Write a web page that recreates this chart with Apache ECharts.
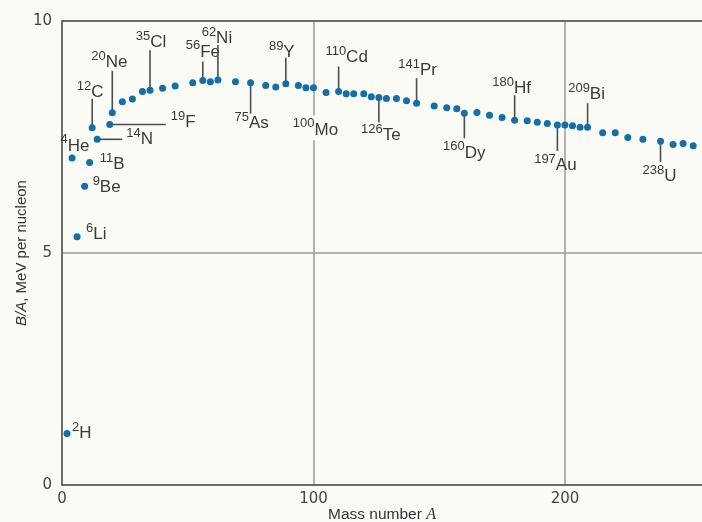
<!DOCTYPE html>
<html>
<head>
<meta charset="utf-8">
<script src="https://cdn.jsdelivr.net/npm/echarts@6/dist/echarts.min.js"></script>
<style>
  html, body { margin: 0; padding: 0; background: #fbfbf5; }
  #chart { width: 702px; height: 522px; }
</style>
</head>
<body>
<div id="chart"></div>
<script>
// Binding energy per nucleon (MeV) against mass number A
const massNumber = [2, 4, 6, 9, 11, 12, 14, 19, 20, 24, 28, 32, 35, 40, 45, 52, 56, 59, 62, 69,
  75, 81, 85, 89, 94, 97, 100, 105, 110, 113, 116, 120, 123, 126, 129, 133, 137, 141, 148, 153,
  157, 160, 165, 170, 175, 180, 185, 189, 193, 197, 200, 203, 206, 209, 215, 220, 225, 231, 238,
  243, 247, 251];
const bindingPerNucleon = [1.11, 7.05, 5.35, 6.44, 6.95, 7.70, 7.45, 7.77, 8.02, 8.26, 8.32, 8.48,
  8.51, 8.55, 8.60, 8.67, 8.72, 8.69, 8.73, 8.69, 8.67, 8.61, 8.58, 8.65, 8.61, 8.56, 8.56, 8.46,
  8.48, 8.43, 8.43, 8.43, 8.37, 8.35, 8.33, 8.33, 8.28, 8.23, 8.17, 8.13, 8.11, 8.01, 8.03, 7.97,
  7.92, 7.86, 7.85, 7.82, 7.79, 7.76, 7.76, 7.74, 7.71, 7.71, 7.59, 7.59, 7.49, 7.45, 7.41, 7.34,
  7.36, 7.31];

// Named nuclides
const labelMass = [2, 4, 6, 9, 11, 12, 14, 19, 20, 35, 56, 62, 75, 89, 100, 110, 126, 141, 160, 180, 197, 209, 238];
const labelSymbol = ['H', 'He', 'Li', 'Be', 'B', 'C', 'N', 'F', 'Ne', 'Cl', 'Fe', 'Ni', 'As', 'Y', 'Mo', 'Cd', 'Te', 'Pr', 'Dy', 'Hf', 'Au', 'Bi', 'U'];

// Axis ticks
const xTicks = { min: 0, max: 254.5, step: 100 };
const yTicks = { min: 0, max: 10, step: 5 };

// Pixel offsets of leader lines and labels from each named point
const labelLayout = {
  H:  { text: [5, -2],   align: 'left',   v: 'middle' },
  He: { text: [3, -14],  align: 'center', v: 'middle' },
  Li: { text: [9, -4],   align: 'left',   v: 'middle' },
  Be: { text: [8, -1],   align: 'left',   v: 'middle' },
  B:  { text: [10, 0],   align: 'left',   v: 'middle' },
  C:  { line: [0, -29], text: [-2, -27], align: 'center', v: 'bottom' },
  N:  { line: [25, 0],  text: [29, -2],  align: 'left',   v: 'middle' },
  F:  { line: [56, 0],  text: [61, -4],  align: 'left',   v: 'middle' },
  Ne: { line: [0, -42], text: [-3, -42], align: 'center', v: 'bottom' },
  Cl: { line: [0, -40], text: [1, -39],  align: 'center', v: 'bottom' },
  Fe: { line: [0, -19], text: [0, -20],  align: 'center', v: 'bottom' },
  Ni: { line: [0, -35], text: [-1, -33], align: 'center', v: 'bottom' },
  As: { line: [0, 31],  text: [1, 28],   align: 'center', v: 'top' },
  Y:  { line: [0, -26], text: [-4, -23], align: 'center', v: 'bottom' },
  Mo: { text: [2, 40], align: 'center', v: 'middle', bg: true },
  Cd: { line: [0, -25], text: [8, -26],  align: 'center', v: 'bottom' },
  Te: { line: [0, 25],  text: [2, 25],   align: 'center', v: 'top' },
  Pr: { line: [0, -25], text: [1, -24],  align: 'center', v: 'bottom' },
  Dy: { line: [0, 25],  text: [0, 27],   align: 'center', v: 'top' },
  Hf: { line: [0, -25], text: [-3, -23], align: 'center', v: 'bottom' },
  Au: { line: [0, 26],  text: [-2, 28],  align: 'center', v: 'top' },
  Bi: { line: [0, -24], text: [-1, -24], align: 'center', v: 'bottom' },
  U:  { line: [0, 21],  text: [-1, 23],  align: 'center', v: 'top' }
};

const points = massNumber.map((a, i) => [a, bindingPerNucleon[i]]);
const labelPoints = labelMass.map((a, i) => [a, bindingPerNucleon[massNumber.indexOf(a)], i]);

const textColor = '#3a3a3a';
const labelRich = {
  s: { fontSize: 13, fontFamily: 'Liberation Sans', fill: textColor, lineHeight: 13, verticalAlign: 'top' },
  e: { fontSize: 17, fontFamily: 'Liberation Sans', fill: textColor, lineHeight: 21, verticalAlign: 'bottom' }
};

const chart = echarts.init(document.getElementById('chart'));
chart.setOption({
  backgroundColor: '#fbfbf5',
  animation: false,
  grid: { left: 62, top: 21, right: 0, height: 464, containLabel: false, outerBoundsMode: 'none' },
  xAxis: [{
    type: 'value', min: xTicks.min, max: xTicks.max, interval: xTicks.step,
    name: '{n|Mass number }{i|A}', nameLocation: 'middle', nameGap: 22, nameMoveOverlap: false,
    nameTextStyle: {
      rich: {
        n: { fontFamily: 'Liberation Sans', fontSize: 15.5, color: '#333' },
        i: { fontFamily: 'Liberation Serif', fontStyle: 'italic', fontSize: 16, color: '#333' }
      }
    },
    axisLine: { show: true, onZero: false, lineStyle: { color: '#555', width: 1.5 } },
    axisTick: { show: false },
    axisLabel: { color: '#444', fontSize: 15, fontFamily: 'DejaVu Sans', margin: 7,
      formatter: v => (v % xTicks.step === 0 ? String(v) : '') },
    splitLine: { show: true, showMaxLine: false, lineStyle: { color: '#9a9a9a', width: 1.5 } }
  }, {
    type: 'value', position: 'top', min: xTicks.min, max: xTicks.max,
    axisLine: { show: true, onZero: false, lineStyle: { color: '#555', width: 1.5 } },
    axisTick: { show: false }, axisLabel: { show: false }, splitLine: { show: false }
  }],
  yAxis: {
    type: 'value', min: yTicks.min, max: yTicks.max, interval: yTicks.step,
    name: '{i|B/A}{n|, MeV per nucleon}', nameLocation: 'middle', nameGap: 33, nameRotate: 90,
    nameMoveOverlap: false,
    nameTextStyle: {
      rich: {
        i: { fontFamily: 'Liberation Sans', fontStyle: 'italic', fontSize: 15, color: '#333' },
        n: { fontFamily: 'Liberation Sans', fontSize: 15, color: '#333' }
      }
    },
    axisLine: { show: true, onZero: false, lineStyle: { color: '#555', width: 1.5 } },
    axisTick: { show: false },
    axisLabel: { color: '#444', fontSize: 15, fontFamily: 'DejaVu Sans', margin: 10 },
    splitLine: { show: true, lineStyle: { color: '#9a9a9a', width: 1.5 } }
  },
  series: [{
    type: 'custom',
    z: 2,
    data: labelPoints,
    renderItem(params, api) {
      const i = api.value(2);
      const sym = labelSymbol[i];
      const L = labelLayout[sym];
      const p = api.coord([api.value(0), api.value(1)]);
      const children = [];
      if (L.line) {
        children.push({
          type: 'line',
          shape: { x1: p[0], y1: p[1], x2: p[0] + L.line[0], y2: p[1] + L.line[1] },
          style: { stroke: '#4d4d4d', lineWidth: 1.6 }
        });
      }
      const style = {
        text: '{s|' + labelMass[i] + '}{e|' + sym + '}',
        rich: labelRich,
        align: L.align,
        verticalAlign: L.v
      };
      if (L.bg) { style.backgroundColor = '#fbfbf5'; style.padding = [2, 2]; }
      children.push({ type: 'text', x: p[0] + L.text[0], y: p[1] + L.text[1], style });
      return { type: 'group', children };
    }
  }, {
    type: 'scatter',
    z: 3,
    data: points,
    symbolSize: 7,
    itemStyle: { color: '#136fa6', opacity: 1 }
  }]
});
</script>
</body>
</html>
